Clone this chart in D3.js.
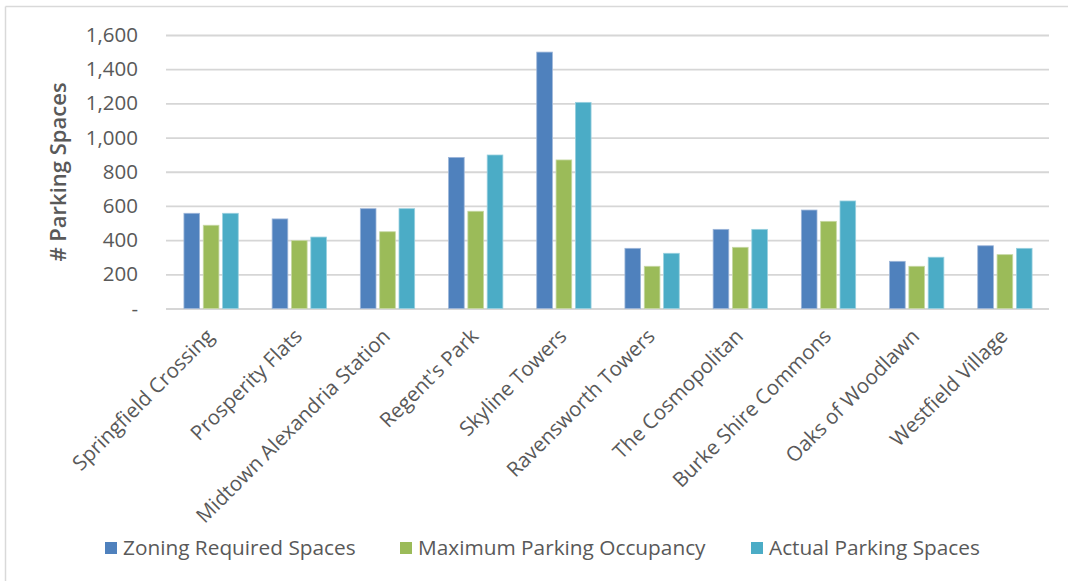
<!DOCTYPE html>
<html>
<head>
<meta charset="utf-8">
<script src="https://cdn.jsdelivr.net/npm/d3@7/dist/d3.min.js"></script>
<style>
  html, body { margin: 0; padding: 0; background: #fff; }
  svg { display: block; }
  text { font-family: "Open Sans", "Noto Sans", sans-serif; fill: #595959; }
</style>
</head>
<body>
<svg id="chart" width="1068" height="581"></svg>
<script>
const categories = ["Springfield Crossing", "Prosperity Flats", "Midtown Alexandria Station", "Regent's Park",
  "Skyline Towers", "Ravensworth Towers", "The Cosmopolitan", "Burke Shire Commons", "Oaks of Woodlawn", "Westfield Village"];
const seriesNames = ["Zoning Required Spaces", "Maximum Parking Occupancy", "Actual Parking Spaces"];
const zoningRequired = [557, 524, 584, 884, 1500, 352, 463, 576, 276, 367];
const maxOccupancy = [487, 397, 449, 569, 869, 247, 358, 510, 247, 315];
const actualSpaces = [557, 418, 584, 898, 1206, 323, 463, 629, 300, 352];
const yTicks = [0, 200, 400, 600, 800, 1000, 1200, 1400, 1600];
const colors = ["#4F81BD", "#9BBB59", "#4BACC6"];
const strokes = ["#9db6d9", "#c6d8a3", "#98d0df"];

const seriesValues = [zoningRequired, maxOccupancy, actualSpaces];

const svg = d3.select("#chart");

// chart border (top and left visible)
svg.append("line").attr("x1", 5.5).attr("x2", 1068).attr("y1", 6.5).attr("y2", 6.5)
  .attr("stroke", "#d9d9d9").attr("stroke-width", 1.5);
svg.append("line").attr("x1", 5.5).attr("x2", 5.5).attr("y1", 6.5).attr("y2", 581)
  .attr("stroke", "#d9d9d9").attr("stroke-width", 1.5);

const x0 = d3.scaleBand().domain(categories).range([167, 1049]).paddingInner(0.384).paddingOuter(0.192);
const x1 = d3.scaleBand().domain(seriesNames).range([0, x0.bandwidth()]).paddingInner(0.19);
const y = d3.scaleLinear().domain([0, 1600]).range([308.5, 35]);

// gridlines
const yAxisGrid = d3.axisLeft(y).tickValues(yTicks).tickSize(-(1049 - 166)).tickFormat("");
const grid = svg.append("g").attr("transform", "translate(166,0)").call(yAxisGrid);
grid.select(".domain").remove();
grid.selectAll("line").attr("stroke", "#d6d6d6").attr("stroke-width", 1.8);

// y tick labels
const yAxis = d3.axisLeft(y).tickValues(yTicks).tickSize(0).tickPadding(0)
  .tickFormat(d => d === 0 ? "-" : d3.format(",")(d));
const ya = svg.append("g").attr("transform", "translate(138,0)").call(yAxis);
ya.select(".domain").remove();
ya.selectAll("text").attr("font-size", 20.5).attr("fill", "#595959")
  .attr("font-family", "'Open Sans', sans-serif");

// y title
svg.append("text")
  .attr("transform", "translate(66,172) rotate(-90)")
  .attr("text-anchor", "middle")
  .attr("font-size", 22)
  .attr("font-weight", 600)
  .text("# Parking Spaces");

// bars
const groups = svg.append("g").selectAll("g")
  .data(categories).join("g")
  .attr("transform", d => `translate(${x0(d)},0)`);

groups.selectAll("rect")
  .data((d, i) => seriesNames.map((s, j) => ({ s, j, v: seriesValues[j][i] })))
  .join("rect")
  .attr("x", d => x1(d.s))
  .attr("width", x1.bandwidth())
  .attr("y", d => y(d.v))
  .attr("height", d => y(0) - y(d.v))
  .attr("fill", d => colors[d.j])
  .attr("stroke", d => strokes[d.j])
  .attr("stroke-width", 0.8);

// x axis labels
const xAxis = d3.axisBottom(x0).tickSize(0).tickPadding(0);
const xa = svg.append("g").attr("transform", `translate(0,${y(0)})`).call(xAxis);
xa.select(".domain").remove();
xa.selectAll("text")
  .attr("font-size", 20.5)
  .attr("fill", "#595959")
  .attr("font-family", "'Open Sans', sans-serif")
  .attr("text-anchor", "end")
  .attr("dy", null)
  .attr("transform", "translate(4,29) rotate(-45)");

// legend
const legendX = [105, 400, 751];
const lg = svg.append("g").selectAll("g").data(seriesNames).join("g")
  .attr("transform", (d, i) => `translate(${legendX[i]},548)`);
lg.append("rect").attr("x", 0).attr("y", -6).attr("width", 12).attr("height", 12)
  .attr("fill", (d, i) => colors[i]);
lg.append("text").attr("x", 18).attr("y", 0).attr("dy", "0.35em")
  .attr("font-size", 20.8).text(d => d);
</script>
</body>
</html>
